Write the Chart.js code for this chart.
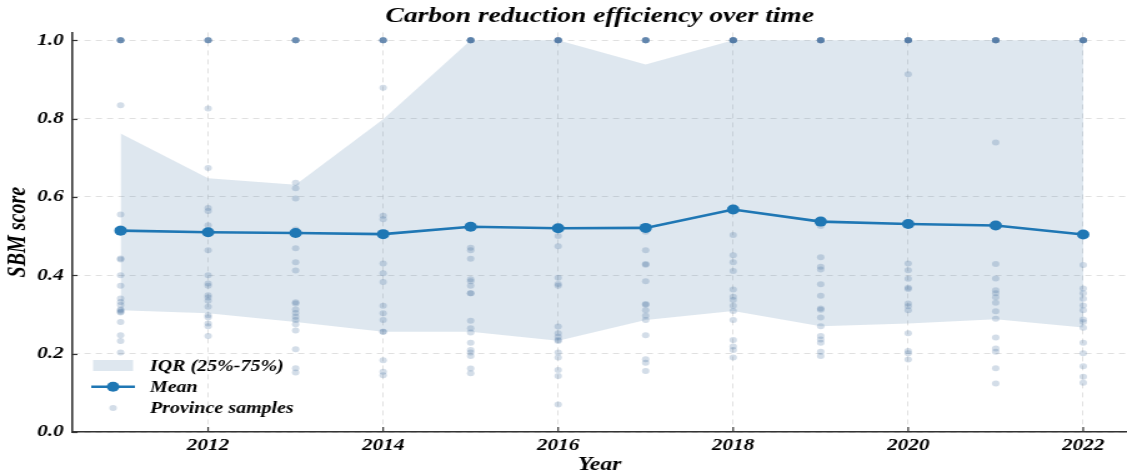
<!DOCTYPE html>
<html>
<head>
<meta charset="utf-8">
<script src="https://cdn.jsdelivr.net/npm/chart.js@4"></script>
<style>
  html, body { margin: 0; padding: 0; background: #ffffff; overflow: hidden; }
  #frame { width: 1127px; height: 475px; overflow: hidden; }
  /* the figure is drawn on a narrower canvas and widened to the page */
  #wrap { width: 902px; height: 475px; transform: scaleX(1.2494); transform-origin: 0 0; }
</style>
</head>
<body>
<div id="frame"><div id="wrap"><canvas id="c" width="902" height="475"></canvas></div></div>
<script>
// Years and summary statistics of the SBM efficiency score
const years = [2011, 2012, 2013, 2014, 2015, 2016, 2017, 2018, 2019, 2020, 2021, 2022];
const meanScore = [0.514, 0.510, 0.508, 0.505, 0.524, 0.520, 0.521, 0.568, 0.537, 0.531, 0.527, 0.504];
const q1Score = [0.311, 0.303, 0.281, 0.256, 0.256, 0.233, 0.286, 0.309, 0.270, 0.277, 0.288, 0.267];
const q3Score = [0.762, 0.648, 0.631, 0.798, 1.0, 1.0, 0.938, 1.0, 1.0, 1.0, 1.0, 1.0];

// Province-level scores per year (frontier provinces sit at 1.0)
const s2011 = [1, 1, 1, 1, 1, 1, 0.834, 0.555, 0.520, 0.443, 0.440, 0.400, 0.373, 0.341, 0.332, 0.324, 0.313, 0.310, 0.307, 0.305, 0.281, 0.247, 0.232, 0.203];
const s2012 = [1, 1, 1, 1, 1, 0.826, 0.674, 0.572, 0.564, 0.528, 0.464, 0.400, 0.379, 0.373, 0.349, 0.343, 0.335, 0.320, 0.298, 0.293, 0.277, 0.270, 0.245];
const s2013 = [1, 1, 1, 1, 1, 1, 0.636, 0.622, 0.596, 0.517, 0.469, 0.433, 0.412, 0.331, 0.328, 0.313, 0.304, 0.294, 0.286, 0.275, 0.259, 0.211, 0.163, 0.152];
const s2014 = [1, 1, 1, 1, 1, 1, 0.879, 0.552, 0.543, 0.430, 0.405, 0.383, 0.322, 0.303, 0.286, 0.256, 0.256, 0.183, 0.154, 0.145];
const s2015 = [1, 1, 1, 1, 1, 1, 1, 1, 0.470, 0.464, 0.442, 0.390, 0.385, 0.373, 0.354, 0.354, 0.284, 0.265, 0.254, 0.228, 0.209, 0.203, 0.194, 0.162, 0.150];
const s2016 = [1, 1, 1, 1, 1, 1, 1, 1, 0.500, 0.474, 0.394, 0.378, 0.373, 0.269, 0.252, 0.243, 0.235, 0.232, 0.203, 0.190, 0.158, 0.143, 0.070];
const s2017 = [1, 1, 1, 1, 1, 1, 1, 0.511, 0.464, 0.429, 0.427, 0.385, 0.327, 0.325, 0.311, 0.297, 0.286, 0.247, 0.186, 0.177, 0.156];
const s2018 = [1, 1, 1, 1, 1, 1, 1, 1, 1, 0.503, 0.451, 0.433, 0.411, 0.364, 0.345, 0.337, 0.322, 0.309, 0.286, 0.235, 0.218, 0.209, 0.190];
const s2019 = [1, 1, 1, 1, 1, 1, 1, 1, 0.526, 0.446, 0.422, 0.415, 0.377, 0.348, 0.315, 0.312, 0.292, 0.270, 0.245, 0.236, 0.228, 0.205, 0.194];
const s2020 = [1, 1, 1, 1, 1, 1, 1, 1, 0.913, 0.430, 0.413, 0.391, 0.368, 0.365, 0.328, 0.321, 0.311, 0.252, 0.207, 0.201, 0.185];
const s2021 = [1, 1, 1, 1, 1, 1, 1, 1, 0.739, 0.429, 0.392, 0.362, 0.354, 0.344, 0.330, 0.308, 0.289, 0.241, 0.213, 0.205, 0.163, 0.124];
const s2022 = [1, 1, 1, 1, 1, 1, 1, 1, 0.426, 0.366, 0.354, 0.340, 0.323, 0.311, 0.287, 0.281, 0.266, 0.228, 0.201, 0.168, 0.141, 0.126];
const sampleColumns = [s2011, s2012, s2013, s2014, s2015, s2016, s2017, s2018, s2019, s2020, s2021, s2022];

// Axis ticks
const xTicks = [2012, 2014, 2016, 2018, 2020, 2022];
const yTicks = [0.0, 0.2, 0.4, 0.6, 0.8, 1.0];

const FONT = "'Liberation Serif', 'Times New Roman', serif";
const MEAN_COLOR = '#1f77b4';
const BAND_COLOR = 'rgba(72, 122, 168, 0.18)';
const DOT_COLOR = 'rgba(72, 112, 160, 0.24)';

const toXY = (vals) => vals.map((v, i) => ({ x: years[i], y: v }));
const samplePoints = [];
sampleColumns.forEach((col, i) => col.forEach(v => samplePoints.push({ x: years[i], y: v })));

// Legend drawn inside the plot area, lower left
const legendEntries = [
  { label: 'IQR (25%-75%)', kind: 'band' },
  { label: 'Mean', kind: 'line' },
  { label: 'Province samples', kind: 'dot' }
];

const insideLegend = {
  id: 'insideLegend',
  afterDatasetsDraw(chart) {
    const { ctx, chartArea } = chart;
    const x0 = chartArea.left + 16.5;
    let y = 365.5;
    ctx.save();
    legendEntries.forEach(e => {
      if (e.kind === 'band') {
        ctx.fillStyle = BAND_COLOR;
        ctx.fillRect(x0, y - 5.5, 32, 11);
      } else if (e.kind === 'line') {
        ctx.strokeStyle = MEAN_COLOR;
        ctx.lineWidth = 2.6;
        ctx.beginPath();
        ctx.moveTo(x0 - 1.5, y);
        ctx.lineTo(x0 + 33.5, y);
        ctx.stroke();
        ctx.fillStyle = MEAN_COLOR;
        ctx.beginPath();
        ctx.arc(x0 + 16, y, 5, 0, Math.PI * 2);
        ctx.fill();
      } else {
        ctx.fillStyle = DOT_COLOR;
        ctx.beginPath();
        ctx.arc(x0 + 16, y, 3, 0, Math.PI * 2);
        ctx.fill();
      }
      ctx.fillStyle = '#000';
      ctx.font = 'italic bold 16px ' + FONT;
      ctx.textBaseline = 'middle';
      ctx.textAlign = 'left';
      ctx.fillText(e.label, x0 + 45.5, y + 1);
      y += 21.3;
    });
    ctx.restore();
  }
};

// Short tick marks pointing into the plot area
const inwardTicks = {
  id: 'inwardTicks',
  afterDraw(chart) {
    const { ctx, chartArea, scales } = chart;
    ctx.save();
    ctx.strokeStyle = '#333';
    ctx.lineWidth = 1.2;
    xTicks.forEach(t => {
      const px = scales.x.getPixelForValue(t);
      ctx.beginPath();
      ctx.moveTo(px, chartArea.bottom);
      ctx.lineTo(px, chartArea.bottom - 5);
      ctx.stroke();
    });
    yTicks.forEach(t => {
      const py = Math.round(scales.y.getPixelForValue(t)) + 0.5;
      ctx.beginPath();
      ctx.moveTo(chartArea.left, py);
      ctx.lineTo(chartArea.left + 4, py);
      ctx.stroke();
    });
    ctx.restore();
  }
};

new Chart(document.getElementById('c'), {
  data: {
    datasets: [
      {
        type: 'line', label: 'Mean', data: toXY(meanScore), order: 0,
        borderColor: MEAN_COLOR, backgroundColor: MEAN_COLOR, borderWidth: 2.6,
        pointRadius: 5, pointBorderWidth: 0, pointBackgroundColor: MEAN_COLOR,
        tension: 0, fill: false, clip: false
      },
      {
        type: 'scatter', label: 'Province samples', data: samplePoints, order: 1,
        pointRadius: 3, pointBorderWidth: 0, backgroundColor: DOT_COLOR, borderColor: 'rgba(0,0,0,0)',
        clip: false
      },
      {
        type: 'line', label: 'Q1', data: toXY(q1Score), order: 3,
        borderWidth: 0, pointRadius: 0, fill: false, borderColor: 'rgba(0,0,0,0)'
      },
      {
        type: 'line', label: 'IQR (25%-75%)', data: toXY(q3Score), order: 2,
        borderWidth: 0, pointRadius: 0, borderColor: 'rgba(0,0,0,0)',
        backgroundColor: BAND_COLOR, fill: '-1'
      }
    ]
  },
  options: {
    responsive: false,
    animation: false,
    devicePixelRatio: 1,
    layout: { autoPadding: false, padding: 0 },
    plugins: {
      legend: { display: false },
      tooltip: { enabled: false },
      title: {
        display: true,
        fullSize: false,
        text: 'Carbon reduction efficiency over time',
        color: '#000',
        font: { family: FONT, size: 22, style: 'italic', weight: 'bold', lineHeight: 1.2 },
        padding: { top: 3, bottom: 3 }
      }
    },
    scales: {
      x: {
        type: 'linear', min: 2010.45, max: 2022.5,
        afterBuildTicks: (s) => { s.ticks = xTicks.map(v => ({ value: v })); },
        afterFit: (s) => { s.height = 43; },
        ticks: {
          color: '#000', padding: 3, maxRotation: 0,
          font: { family: FONT, size: 17, style: 'italic', weight: 'bold' },
          callback: (v) => String(v)
        },
        grid: { color: 'rgba(0,0,0,0.12)', lineWidth: 1, drawTicks: false },
        border: { display: true, color: '#333', width: 1.6, dash: [5, 4] },
        title: {
          display: true, text: 'Year', color: '#000',
          font: { family: FONT, size: 19, style: 'italic', weight: 'bold', lineHeight: 1 },
          padding: { top: 0, bottom: 0 }
        }
      },
      y: {
        type: 'linear', min: 0, max: 1.02,
        afterBuildTicks: (s) => { s.ticks = yTicks.map(v => ({ value: v })); },
        afterFit: (s) => { s.width = 58; },
        ticks: {
          color: '#000', padding: 7,
          font: { family: FONT, size: 17, style: 'italic', weight: 'bold' },
          callback: (v) => Number(v).toFixed(1)
        },
        grid: { color: 'rgba(0,0,0,0.12)', lineWidth: 1, drawTicks: false },
        border: { display: true, color: '#333', width: 1.6, dash: [5, 4] },
        title: {
          display: true, text: 'SBM score', color: '#000',
          font: { family: FONT, size: 20, style: 'italic', weight: 'bold', lineHeight: 1.2 },
          padding: { top: 3, bottom: 0 }
        }
      }
    }
  },
  plugins: [insideLegend, inwardTicks]
});
</script>
</body>
</html>
